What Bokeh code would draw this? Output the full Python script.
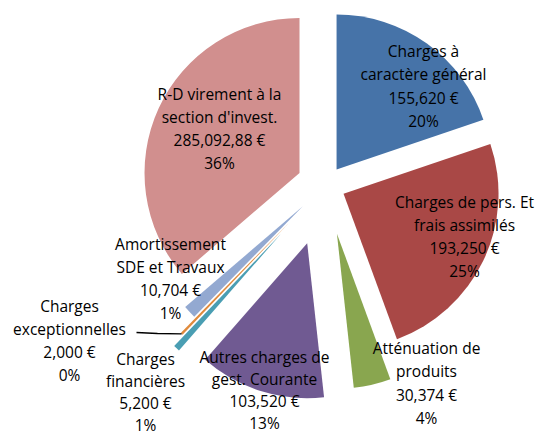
import numpy as np
from bokeh.plotting import figure
from bokeh.models import ColumnDataSource, Range1d
from bokeh.embed import file_html
from bokeh.resources import INLINE
from bokeh.core.properties import value

# ---- data ----
categories = ["Charges à caractère général", "Charges de pers. Et frais assimilés",
              "Atténuation de produits", "Autres charges de gest. Courante",
              "Charges financières", "Charges exceptionnelles",
              "Amortissement SDE et Travaux", "R-D virement à la section d'invest."]
amounts = [155620, 193250, 30374, 103520, 5200, 2000, 10704, 285092.88]
amount_labels = ["155,620 €", "193,250 €", "30,374 €", "103,520 €",
                 "5,200 €", "2,000 €", "10,704 €", "285,092,88 €"]
percent_labels = ["20%", "25%", "4%", "13%", "1%", "0%", "1%", "36%"]
name_lines = [["Charges à", "caractère général"],
              ["Charges de pers. Et", "frais assimilés"],
              ["Atténuation de", "produits"],
              ["Autres charges de", "gest. Courante"],
              ["Charges", "financières"],
              ["Charges", "exceptionnelles"],
              ["Amortissement", "SDE et Travaux"],
              ["R-D virement à la", "section d'invest."]]

# ---- styles / layout ----
colors = ["#4673A8", "#A94846", "#89A64F", "#705A92", "#4A9EB3", "#E08A3C", "#93A9D1", "#D18F8E"]
explode = [19, 20, 50, 61, 66, 52, 31, 28.6]
W, H = 540, 436
CX, CY = 325, H - 184.5
R = 155
label_centers_px = [(423, 85.5), (464, 236), (426, 382.5), (264, 389),
                    (145, 391), (69, 340), (170, 278), (219, 128)]
line_gaps = [23.2, 23.2, 23.2, 22.0, 22.0, 23.2, 23.2, 23.2]

vals = np.array(amounts, dtype=float)
frac = vals / vals.sum()
end_cw = np.cumsum(frac) * 2 * np.pi
start_cw = end_cw - frac * 2 * np.pi
mid = (start_cw + end_cw) / 2
ex = np.array(explode)
cx = CX + ex * np.sin(mid)
cy = CY + ex * np.cos(mid)

src = ColumnDataSource(dict(
    x=cx, y=cy,
    start=np.pi / 2 - end_cw, end=np.pi / 2 - start_cw,
    color=colors, cat=categories, amount=vals,
))

p = figure(width=W, height=H, x_range=Range1d(0, W), y_range=Range1d(0, H),
           output_backend="svg", toolbar_location=None, min_border=0,
           x_axis_location=None, y_axis_location=None)
p.grid.visible = False
p.outline_line_color = None
p.background_fill_color = "white"
p.border_fill_color = "white"

p.wedge(x="x", y="y", radius=R, start_angle="start", end_angle="end",
        direction="anticlock", fill_color="color", line_color=None, source=src)

# leader line for "Charges exceptionnelles"
i_exc = 5
end_x = cx[i_exc] + R * np.sin(mid[i_exc])
end_y = cy[i_exc] + R * np.cos(mid[i_exc])
p.line(x=[136, 157, end_x], y=[H - 332, H - 333, end_y], line_color="black", line_width=1.3)

tx, ty, tt = [], [], []
for i in range(len(categories)):
    lines = name_lines[i] + [amount_labels[i], percent_labels[i]]
    lx, ly = label_centers_px[i]
    n = len(lines)
    for k, t in enumerate(lines):
        tx.append(lx)
        ty.append(H - (ly + (k - (n - 1) / 2) * line_gaps[i]))
        tt.append(t)

p.text(x=tx, y=ty, text=tt, text_align="center", text_baseline="middle",
       text_font=value("Open Sans"), text_font_size="15.5px", text_color="#000000")

open("out.html", "w").write(file_html(p, INLINE))
